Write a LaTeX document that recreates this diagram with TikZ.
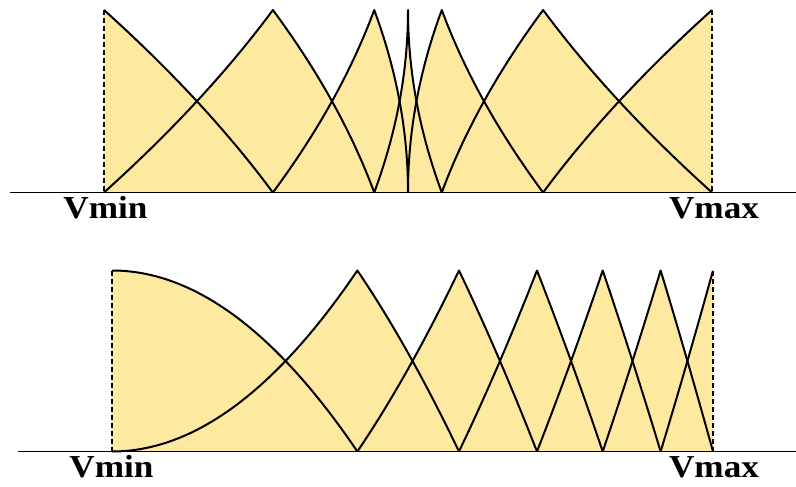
\documentclass[tikz,border=0pt]{standalone}
\usepackage{fontspec}
\setmainfont{Liberation Serif}
\definecolor{mfyellow}{RGB}{253,234,160}
\begin{document}
\begin{tikzpicture}[x=1pt,y=-1pt,
  declare function={xt(\s)=408+304*\s*abs(\s); mut(\s,\c)=1-3*abs(\s-(\c));
                    mub(\u,\c)=1-6*abs(\u*\u-(\c));},
  mf/.style={draw=black,line width=2pt,line join=round},
  mffill/.style={fill=mfyellow,draw=none},
  vline/.style={dash pattern=on 5pt off 3pt,line width=1.4pt},
  axisline/.style={line width=1.5pt},
  lbl/.style={font=\fontsize{32}{32}\selectfont\bfseries, anchor=base, xscale=1.1, inner sep=0pt}]
\useasboundingbox (0,0) rectangle (796,487);
% ---------- top panel ----------
\fill[mffill] plot[domain=-1:-0.666667, samples=41, variable=\t] ({xt(\t)},{192.5-182.5*mut(\t,-1)}) -- (104,192.5) -- cycle;
\fill[mffill] plot[domain=0.666667:1, samples=41, variable=\t] ({xt(\t)},{192.5-182.5*mut(\t,1)}) -- (712,192.5) -- cycle;
\foreach \c/\a/\b in {-0.666667/-1/-0.333333, -0.333333/-0.666667/0, 0/-0.333333/0.333333, 0.333333/0/0.666667, 0.666667/0.333333/1}{
  \fill[mffill] plot[domain=\a:\c, samples=61, variable=\t] ({xt(\t)},{192.5-182.5*mut(\t,\c)})
    -- plot[domain=\c:\b, samples=61, variable=\t] ({xt(\t)},{192.5-182.5*mut(\t,\c)}) -- cycle;
}
\draw[axisline] (10,192.5) -- (796,192.5);
\draw[vline] (104,10) -- (104,192.5);
\draw[vline] (712,10) -- (712,192.5);
\draw[mf] plot[domain=-1:-0.666667, samples=41, variable=\t] ({xt(\t)},{192.5-182.5*mut(\t,-1)});
\draw[mf] plot[domain=0.666667:1, samples=41, variable=\t] ({xt(\t)},{192.5-182.5*mut(\t,1)});
\foreach \c/\a/\b in {-0.666667/-1/-0.333333, -0.333333/-0.666667/0, 0/-0.333333/0.333333, 0.333333/0/0.666667, 0.666667/0.333333/1}{
  \draw[mf] plot[domain=\a:\c, samples=61, variable=\t] ({xt(\t)},{192.5-182.5*mut(\t,\c)})
    -- plot[domain=\c:\b, samples=61, variable=\t] ({xt(\t)},{192.5-182.5*mut(\t,\c)});
}
\node[lbl] (tmin) at (105.5,218) {Vmin};
\node[lbl] (tmax) at (714,218) {Vmax};
% ---------- bottom panel ----------
\fill[mffill] plot[domain=0:0.408248, samples=61, variable=\u] ({112+601*\u},{451.5-181*mub(\u,0)}) -- (112,451.5) -- cycle;
\fill[mffill] plot[domain=0.912871:1, samples=31, variable=\u] ({112+601*\u},{451.5-181*mub(\u,1)}) -- (713,451.5) -- cycle;
\foreach \c/\a/\m/\b in {0.166667/0/0.408248/0.577350, 0.333333/0.408248/0.577350/0.707107, 0.5/0.577350/0.707107/0.816497, 0.666667/0.707107/0.816497/0.912871, 0.833333/0.816497/0.912871/1}{
  \fill[mffill] plot[domain=\a:\m, samples=41, variable=\u] ({112+601*\u},{451.5-181*mub(\u,\c)})
    -- plot[domain=\m:\b, samples=41, variable=\u] ({112+601*\u},{451.5-181*mub(\u,\c)}) -- cycle;
}
\draw[axisline] (18,451.5) -- (796,451.5);
\draw[vline] (112,270.5) -- (112,451.5);
\draw[vline] (713,270.5) -- (713,451.5);
\draw[mf] plot[domain=0:0.408248, samples=61, variable=\u] ({112+601*\u},{451.5-181*mub(\u,0)});
\draw[mf] plot[domain=0.912871:1, samples=31, variable=\u] ({112+601*\u},{451.5-181*mub(\u,1)});
\foreach \c/\a/\m/\b in {0.166667/0/0.408248/0.577350, 0.333333/0.408248/0.577350/0.707107, 0.5/0.577350/0.707107/0.816497, 0.666667/0.707107/0.816497/0.912871, 0.833333/0.816497/0.912871/1}{
  \draw[mf] plot[domain=\a:\m, samples=41, variable=\u] ({112+601*\u},{451.5-181*mub(\u,\c)})
    -- plot[domain=\m:\b, samples=41, variable=\u] ({112+601*\u},{451.5-181*mub(\u,\c)});
}
\node[lbl] (bmin) at (111.5,477) {Vmin};
\node[lbl] (bmax) at (714,477) {Vmax};
\end{tikzpicture}
\end{document}
